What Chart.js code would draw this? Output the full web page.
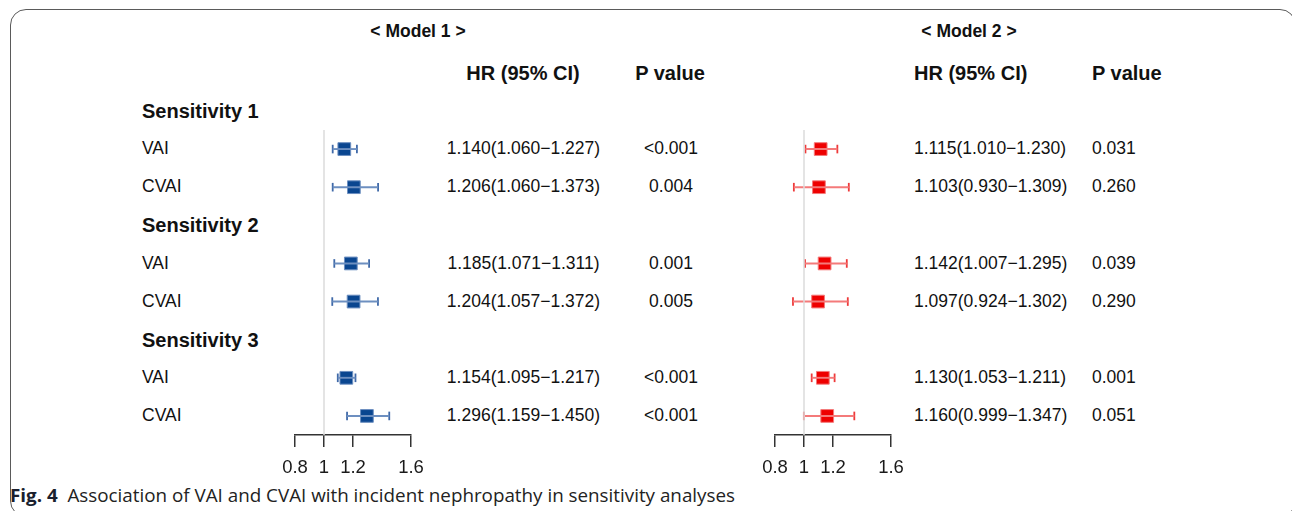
<!DOCTYPE html>
<html>
<head>
<meta charset="utf-8">
<script src="https://cdn.jsdelivr.net/npm/chart.js@4/dist/chart.umd.min.js"></script>
<style>
  html,body{margin:0;padding:0;background:#fff;}
  body{width:1292px;height:511px;position:relative;overflow:hidden;font-family:"Liberation Sans",Arial,sans-serif;color:#111;}
  .frame{position:absolute;left:10px;top:9px;width:1286px;height:508px;border:1.5px solid #5a5a5a;border-radius:16px;box-sizing:border-box;}
  .t{position:absolute;white-space:nowrap;line-height:1;transform:translateY(-50%);}
  .c{transform:translate(-50%,-50%);}
  .b{font-weight:bold;}
  canvas{position:absolute;}
  #cap{position:absolute;left:10px;top:482px;font-family:"Open Sans","Noto Sans",sans-serif;font-size:18.5px;color:#222;white-space:nowrap;transform-origin:0 0;}
  #cap b{color:#1a1f2e;}
</style>
</head>
<body>
<div class="frame"></div>
<div id="txt"></div>
<canvas id="c1" width="196" height="370" style="left:255px;top:110px;"></canvas>
<canvas id="c2" width="196" height="370" style="left:735px;top:110px;"></canvas>
<div id="cap"><b>Fig. 4</b>&nbsp; Association of VAI and CVAI with incident nephropathy in sensitivity analyses</div>
<script>
// ---- data ----
const groups = ['Sensitivity 1', 'Sensitivity 2', 'Sensitivity 3'];
const variables = ['VAI', 'CVAI'];
const tickValues = [0.8, 1, 1.2, 1.6];

const m1HR = [1.140, 1.206, 1.185, 1.204, 1.154, 1.296];
const m1Lo = [1.060, 1.060, 1.071, 1.057, 1.095, 1.159];
const m1Hi = [1.227, 1.373, 1.311, 1.372, 1.217, 1.450];
const m1P  = ['<0.001', '0.004', '0.001', '0.005', '<0.001', '<0.001'];

const m2HR = [1.115, 1.103, 1.142, 1.097, 1.130, 1.160];
const m2Lo = [1.010, 0.930, 1.007, 0.924, 1.053, 0.999];
const m2Hi = [1.230, 1.309, 1.295, 1.302, 1.211, 1.347];
const m2P  = ['0.031', '0.260', '0.039', '0.290', '0.001', '0.051'];

// ---- layout helpers ----
const ROW0 = 111, ROWH = 38.125;
const rowY = r => ROW0 + r * ROWH;
const dataRow = i => Math.floor(i / 2) * 3 + 1 + (i % 2);

const txt = document.getElementById('txt');
function addText(s, x, y, cls, size) {
  const d = document.createElement('div');
  d.className = 't ' + (cls || '');
  d.textContent = s;
  d.style.left = x + 'px';
  d.style.top = y + 'px';
  d.style.fontSize = size + 'px';
  txt.appendChild(d);
}
const fmtHR = (h, l, u) => h.toFixed(3) + '(' + l.toFixed(3) + '\u2212' + u.toFixed(3) + ')';

addText('< Model 1 >', 418, 32, 'c b', 17.5);
addText('< Model 2 >', 969, 32, 'c b', 17.5);
addText('HR (95% CI)', 523, 73, 'c b', 20);
addText('P value', 670, 73, 'c b', 20);
addText('HR (95% CI)', 914, 73, 'b', 20);
addText('P value', 1092, 73, 'b', 20);

groups.forEach((g, gi) => addText(g, 142, rowY(gi * 3), 'b', 20));
for (let i = 0; i < m1HR.length; i++) {
  const y = rowY(dataRow(i));
  addText(variables[i % 2], 142, y, '', 17.5);
  addText(fmtHR(m1HR[i], m1Lo[i], m1Hi[i]), 523.5, y, 'c', 17.5);
  addText(m1P[i], 671, y, 'c', 17.5);
  addText(fmtHR(m2HR[i], m2Lo[i], m2Hi[i]), 914, y, '', 17.5);
  addText(m2P[i], 1092, y, '', 17.5);
}

const cap = document.getElementById('cap');
const cw = cap.getBoundingClientRect().width;
cap.style.transform = 'scaleX(' + (725 / cw) + ')';

// ---- charts ----
Chart.defaults.font.family = '"Liberation Sans", Arial, sans-serif';
Chart.defaults.color = '#222';

function forest(id, hr, lo, hi, cBox, cLine, cCap) {
  const datasets = [];
  datasets.push({
    type: 'line', data: [{x: 1, y: 0.5}, {x: 1, y: 8.5}],
    borderColor: '#dcdcdc', borderWidth: 1.5, pointRadius: 0
  });
  for (let i = 0; i < hr.length; i++) {
    const r = dataRow(i);
    datasets.push({
      type: 'line', data: [{x: lo[i], y: r}, {x: hi[i], y: r}],
      borderColor: cLine, borderWidth: 1.9, pointRadius: 0
    });
  }
  const caps = [];
  for (let i = 0; i < hr.length; i++) {
    caps.push({x: lo[i], y: dataRow(i)}, {x: hi[i], y: dataRow(i)});
  }
  datasets.push({
    type: 'scatter', data: caps, pointStyle: 'line', rotation: 90,
    pointRadius: 4.3, borderColor: cCap, borderWidth: 1.8
  });
  datasets.push({
    type: 'scatter', data: hr.map((h, i) => ({x: h, y: dataRow(i)})),
    pointStyle: 'rect', pointRadius: 9, backgroundColor: cBox,
    borderColor: cLine, borderWidth: 1
  });
  return new Chart(document.getElementById(id), {
    type: 'scatter',
    data: {datasets},
    options: {
      responsive: false, animation: false,
      events: [],
      layout: {padding: {left: 40, right: 40, top: 20, bottom: 0}, autoPadding: false},
      plugins: {legend: {display: false}, tooltip: {enabled: false}},
      scales: {
        y: {type: 'linear', reverse: true, min: 0.5, max: 8.5, display: false},
        x: {
          type: 'linear', min: 0.8, max: 1.6,
          afterBuildTicks: s => { s.ticks = tickValues.map(v => ({value: v})); },
          afterFit: s => { s.height = 45; },
          ticks: {autoSkip: false, maxRotation: 0, padding: 10, color: '#1a1a1a',
                  font: {size: 18.5}, callback: v => String(v)},
          grid: {drawOnChartArea: false, drawTicks: true, tickLength: 12, color: '#333', lineWidth: 1.5},
          border: {display: true, color: '#333', width: 1.5}
        }
      }
    }
  });
}

forest('c1', m1HR, m1Lo, m1Hi, '#0a4690', '#6d8fc0', '#3f69a8');
forest('c2', m2HR, m2Lo, m2Hi, '#ee0000', '#f47a7a', '#ee3a3a');
</script>
</body>
</html>
